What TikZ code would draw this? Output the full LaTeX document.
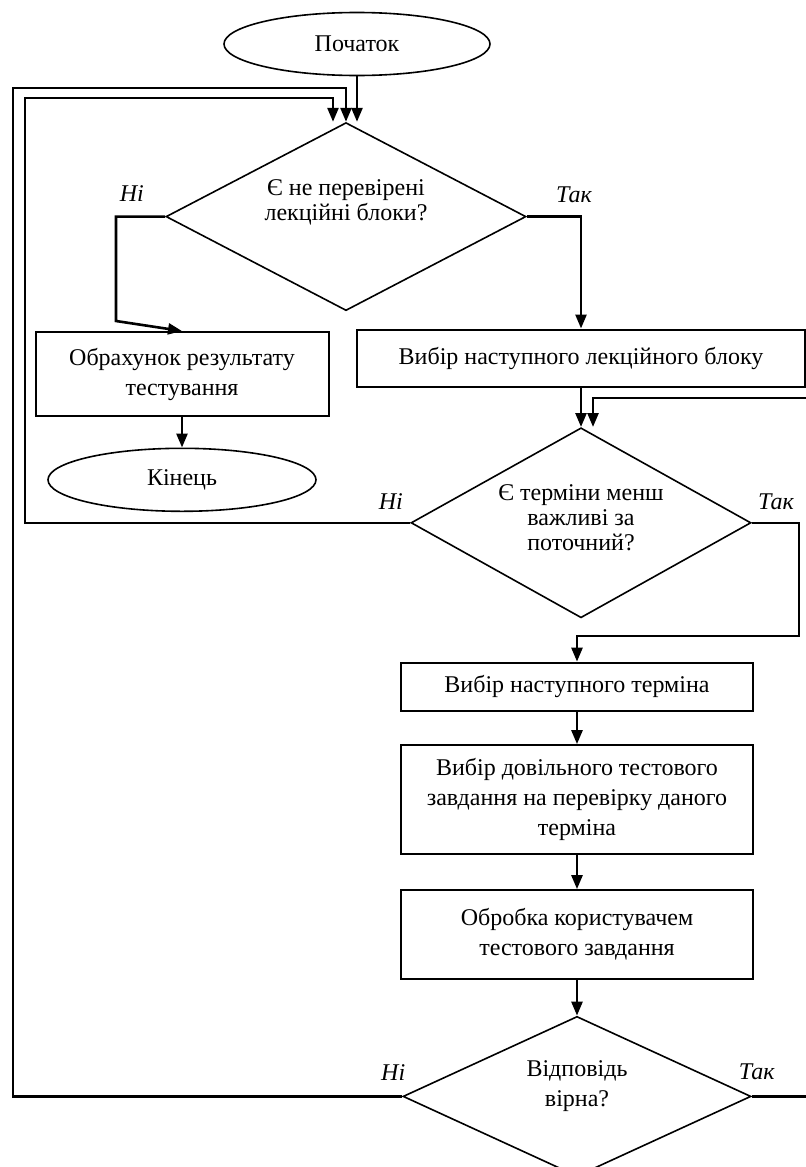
\documentclass[12pt,tikz,border=0pt]{standalone}
\usepackage{fontspec}
\setmainfont{Liberation Serif}
\usetikzlibrary{positioning,shapes.geometric,arrows.meta}

\begin{document}
\begin{tikzpicture}[x=1pt, y=1pt,
	>={Triangle[length=7pt,width=5.5pt]},
	terminal/.style = { draw, ellipse, line width=0.8pt, inner sep=0pt,
			minimum width=133pt, minimum height=31.5pt },
	block/.style = { draw, rectangle, line width=1pt, inner sep=0pt,
			align=center, font=\fontsize{12}{15}\selectfont },
	decision/.style = { draw, diamond, aspect=1.9, line width=0.8pt,
			inner sep=0pt, align=center,
			font=\fontsize{12}{12.5}\selectfont },
	answer/.style = { inner sep=0pt, font=\itshape },
	flow/.style = { ->, line width=1.3pt }]

  \useasboundingbox (0,0) rectangle (403,-583.5);

  \node[name=start, terminal] at (178.5,-22) {Початок};
  \node[name=dec1, decision, minimum width=180pt, minimum height=94pt,
	text depth=17pt, below=22.75pt of start, xshift=-5.5pt]
    {Є не перевірені\\лекційні блоки?};
  \node[name=box1, block, minimum width=146.5pt, minimum height=42pt]
    at (91,-187) {Обрахунок результату\\тестування};
  \node[name=end, terminal, minimum width=134pt, below=15.25pt of box1]{Кінець};
  \node[name=box2, block, minimum width=224pt, minimum height=28.5pt]
    at (290.5,-179) {Вибір наступного лекційного блоку};
  \node[name=dec2, decision, minimum width=170pt, minimum height=95pt,
	text depth=5pt, below=19.75pt of box2]
    {Є терміни менш\\важливі за\\поточний?};
  \node[name=box3, block, minimum width=176pt, minimum height=24pt,
	below=21.5pt of dec2, xshift=-2pt] {Вибір наступного терміна};
  \node[name=box4, block, minimum width=176pt, minimum height=54.5pt,
	below=16.25pt of box3]
    {Вибір довільного тестового\\завдання на перевірку даного\\терміна};
  \node[name=box5, block, minimum width=176pt, minimum height=44.5pt,
	below=17pt of box4] {Обробка користувачем\\тестового завдання};
  \node[name=dec3, decision, minimum width=174pt, minimum height=80pt,
	font=\fontsize{12}{15}\selectfont, text depth=13pt,
	below=17.75pt of box5] {Відповідь\\вірна?};

  % answers at the decisions
  \node[name=no1, answer, above left=7.5pt and 10.5pt of dec1.west]{Ні};
  \node[name=yes1, answer, above right=6.5pt and 14.5pt of dec1.east]{Так};
  \node[name=no2, answer, above left=6.5pt and 3.5pt of dec2.west]{Ні};
  \node[name=yes2, answer, above right=6.5pt and 3pt of dec2.east]{Так};
  \node[name=no3, answer, above=8pt of dec3.west, xshift=-4.5pt]{Ні};
  \node[name=yes3, answer, above=8pt of dec3.east, xshift=2.5pt]{Так};

  % bends of the loops
  \coordinate (bend1) at (58,-160.5);
  \coordinate (bend2) at (399.5,-318);
  \coordinate (loop2) at (12.5,-49);
  \coordinate (loop3) at (6.5,-44);
  \coordinate (loop4) at (405,-199);

  \draw [flow] (start) -- (start |- dec1.north);
  \draw [flow] (dec1.west) -| (bend1) -- (box1.north);
  \draw [flow] (dec1.east) -| (box2.north);
  \draw [flow] (box1) -- (end);
  \draw [flow] (box2) -- (dec2);
  \draw [flow] (dec2.west) -| (loop2) -| ([xshift=-6.5pt]dec1.north);
  \draw [flow] (dec2.east) -| (bend2) -| (box3.north);
  \draw [flow] (box3) -- (box4);
  \draw [flow] (box4) -- (box5);
  \draw [flow] (box5) -- (dec3);
  \draw [flow] (dec3.west) -| (loop3) -| (dec1.north);
  \draw [flow] (dec3.east) -| (loop4) -| ([xshift=6pt]dec2.north);
\end{tikzpicture}
\end{document}
